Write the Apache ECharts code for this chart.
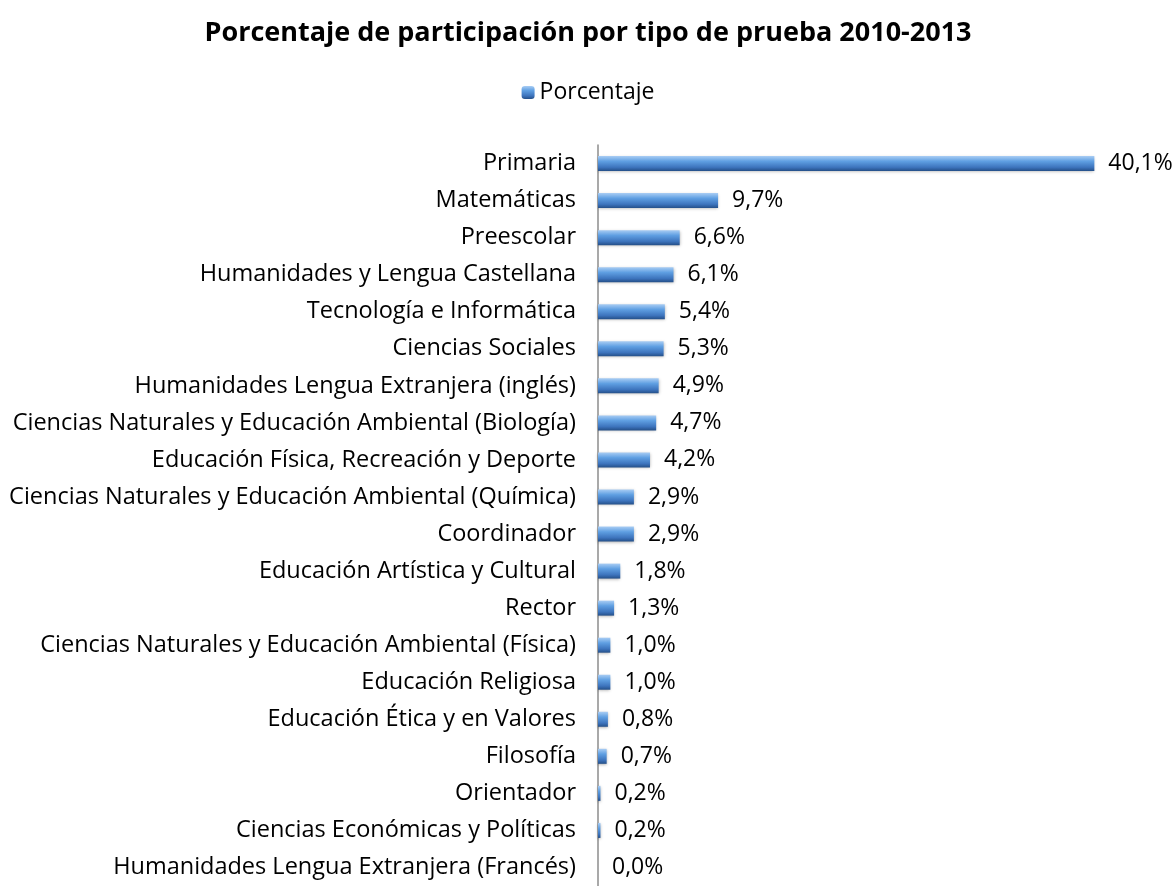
<!DOCTYPE html>
<html>
<head>
<meta charset="utf-8">
<script src="https://cdn.jsdelivr.net/npm/echarts@6/dist/echarts.min.js"></script>
<style>
  html, body { margin: 0; padding: 0; background: #fff; }
  #chart { width: 1176px; height: 886px; }
</style>
</head>
<body>
<div id="chart"></div>
<script>
const categories = [
  "Primaria",
  "Matemáticas",
  "Preescolar",
  "Humanidades y Lengua Castellana",
  "Tecnología e Informática",
  "Ciencias Sociales",
  "Humanidades Lengua Extranjera (inglés)",
  "Ciencias Naturales y Educación Ambiental (Biología)",
  "Educación Física, Recreación y Deporte",
  "Ciencias Naturales y Educación Ambiental (Química)",
  "Coordinador",
  "Educación Artística y Cultural",
  "Rector",
  "Ciencias Naturales y Educación Ambiental (Física)",
  "Educación Religiosa",
  "Educación Ética y en Valores",
  "Filosofía",
  "Orientador",
  "Ciencias Económicas y Políticas",
  "Humanidades Lengua Extranjera (Francés)"
];
const porcentaje = [40.1, 9.7, 6.6, 6.1, 5.4, 5.3, 4.9, 4.7, 4.2, 2.9, 2.9, 1.8, 1.3, 1.0, 1.0, 0.8, 0.7, 0.2, 0.2, 0.0];

const font = "'Open Sans', 'Liberation Sans', sans-serif";
const barColor = new echarts.graphic.LinearGradient(0, 0, 0, 1, [
  { offset: 0, color: "#a9cdf4" },
  { offset: 0.35, color: "#5f9fe2" },
  { offset: 0.75, color: "#3d74bd" },
  { offset: 1, color: "#244f88" }
]);

const chart = echarts.init(document.getElementById("chart"));
chart.setOption({
  animation: false,
  title: {
    text: "Porcentaje de participación por tipo de prueba 2010-2013",
    left: "center",
    top: 15,
    textStyle: { fontFamily: font, fontSize: 27, fontWeight: "bold", color: "#000" }
  },
  legend: {
    top: 76,
    left: "center",
    itemWidth: 13,
    itemHeight: 13,
    itemGap: 6,
    textStyle: { fontFamily: font, fontSize: 23, color: "#000" },
    data: ["Porcentaje"]
  },
  grid: { left: 598, right: 21, top: 145, bottom: -9, containLabel: false },
  xAxis: {
    type: "value",
    min: 0,
    max: 45,
    show: false
  },
  yAxis: {
    type: "category",
    inverse: true,
    data: categories,
    axisLine: { show: true, lineStyle: { color: "#8c8c8c", width: 1.5 } },
    axisTick: { show: false },
    axisLabel: { fontFamily: font, fontSize: 23.5, color: "#000", margin: 22 }
  },
  series: [{
    name: "Porcentaje",
    type: "bar",
    data: porcentaje,
    barWidth: 15,
    itemStyle: {
      color: barColor,
      shadowColor: "rgba(0,0,0,0.3)",
      shadowBlur: 3,
      shadowOffsetY: 1
    },
    label: {
      show: true,
      position: "right",
      distance: 14,
      fontFamily: font,
      fontSize: 23,
      color: "#000",
      formatter: p => p.value.toFixed(1).replace(".", ",") + "%"
    }
  }]
});
</script>
</body>
</html>
